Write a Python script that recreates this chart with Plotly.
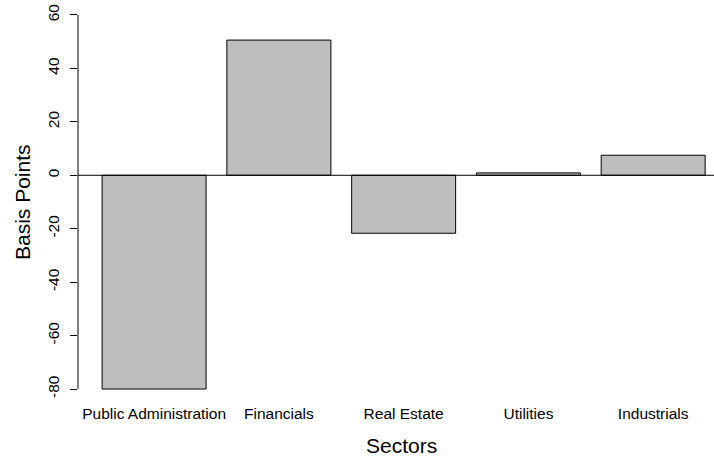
import plotly.graph_objects as go

categories = ["Public Administration", "Financials", "Real Estate", "Utilities", "Industrials"]
values = [-80.0, 50.6, -21.7, 0.9, 7.5]
y_ticks = [-80, -60, -40, -20, 0, 20, 40, 60]

# R barplot layout: width 1, space 0.2
width = 1.0
space = 0.2
centers = [space + width / 2 + i * (width + space) for i in range(len(categories))]

W, H = 714, 457
ML, MR, MT, MB = 78, 0, 0, 53
PW, PH = W - ML - MR, H - MT - MB


def px_to_paper_x(px):
    return (px - ML) / PW


def px_to_paper_y(py):
    return (H - MB - py) / PH


fig = go.Figure()
fig.add_trace(go.Bar(
    x=centers, y=values, width=width,
    marker=dict(color="#BEBEBE", line=dict(color="#000000", width=1)),
    showlegend=False, hoverinfo="skip",
))

font = "Liberation Sans, Arial, sans-serif"
fig.update_layout(
    width=W, height=H,
    margin=dict(l=ML, r=MR, t=MT, b=MB, autoexpand=False),
    paper_bgcolor="white", plot_bgcolor="white",
    font=dict(family=font, color="black"),
    xaxis=dict(
        range=[-0.032, 6.085], showgrid=False, zeroline=False, showline=False,
        tickvals=centers, ticktext=categories, ticks="", tickfont=dict(size=15.5),
        automargin=False, ticklabelstandoff=-2,
    ),
    yaxis=dict(
        range=[-85.6, 65.6], showgrid=False, zeroline=False, showline=False,
        tickvals=y_ticks, ticktext=[str(v) for v in y_ticks], tickangle=-90,
        ticks="outside", ticklen=7, tickcolor="black", tickfont=dict(size=15.5),
        automargin=False, ticklabelstandoff=5,
    ),
    shapes=[
        dict(type="line", xref="paper", yref="y", x0=0, x1=0,
             y0=min(y_ticks), y1=max(y_ticks), line=dict(color="black", width=1)),
        dict(type="line", xref="paper", yref="y", x0=0, x1=1,
             y0=0, y1=0, line=dict(color="black", width=1)),
    ],
    annotations=[
        dict(text="Sectors", xref="paper", yref="paper", x=px_to_paper_x(401),
             y=px_to_paper_y(445), showarrow=False, borderpad=0,
             xanchor="center", yanchor="middle", font=dict(size=21)),
        dict(text="Basis Points", xref="paper", yref="paper", x=px_to_paper_x(22),
             y=px_to_paper_y(202), textangle=-90, showarrow=False, borderpad=0,
             xanchor="center", yanchor="middle", font=dict(size=21)),
    ],
)

fig.write_html(
    "out.html",
    config={"displayModeBar": False, "staticPlot": True},
    post_script="document.body.style.margin='0';document.body.style.overflow='hidden';",
)
